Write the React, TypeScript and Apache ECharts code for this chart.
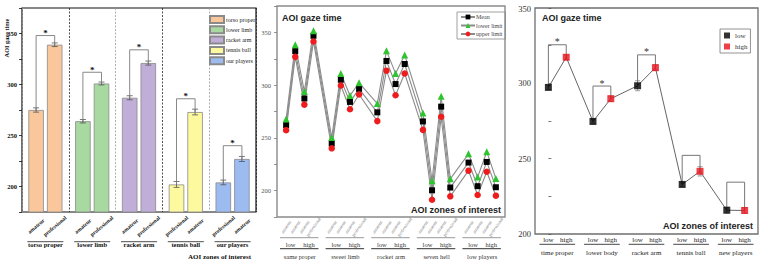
import { useEffect, useRef } from "react";
import * as echarts from "echarts";

// ---- Left panel: gaze time per AOI zone, two groups per zone ----
const zoneNames = ["torso proper", "lower limb", "racket arm", "tennis ball", "our players"];
const firstBarValues = [275, 264, 287, 202, 204];
const secondBarValues = [339, 301, 321, 273, 227];
const firstBarErrors = [2.1, 1.7, 2.0, 2.9, 2.3];
const secondBarErrors = [1.8, 1.4, 2.0, 2.8, 2.5];
const firstBarLabels = ["amateur", "amateur", "amateur", "professional", "professional"];
const secondBarLabels = ["professional", "professional", "professional", "amateur", "amateur"];
const barBracketTops = [348, 312, 334, 286, 240];

// ---- Middle panel: mean gaze time with its lower / upper limits ----
const regionNames = ["same proper", "sweet limb", "rocket arm", "seven hell", "low players"];
const slotNames = ["amateur", "amateur", "amateur", "professional"];
const levelNames = ["low", "high"];
const meanValues = [262.1, 332.2, 287.3, 346.8, 244.6, 305.1, 284.1, 296.5, 274.2, 322.9, 301.0, 320.0, 265.6, 200.3, 279.6, 202.9, 226.6, 204.2, 227.2, 203.2];
const lowerLimitValues = [267.8, 338.2, 294.0, 351.6, 250.3, 311.1, 290.1, 302.2, 282.5, 332.5, 311.1, 328.6, 273.6, 209.3, 289.5, 211.2, 234.9, 212.8, 236.9, 211.5];
const upperLimitValues = [257.3, 326.8, 281.5, 341.4, 240.1, 299.7, 277.1, 291.1, 265.9, 313.7, 290.4, 311.0, 257.6, 191.3, 270.0, 194.6, 218.9, 195.8, 217.9, 195.2];

// ---- Right panel: low vs high per zone ----
const pairZoneNames = ["time proper", "lower body", "racket arm", "tennis ball", "new players"];
const lowValues = [297.3, 274.7, 298.4, 232.9, 215.8];
const highValues = [317.3, 289.8, 310.4, 241.6, 215.6];
const lowErrors = [1.5, 1.5, 3.3, 1.5, 1.9];
const highErrors = [1.5, 1.8, 1.9, 3.1, 1.9];
const pairBracketTops = [325.6, 298.2, 318.9, 252.2, 234.4];
const pairSignificant = [true, true, true, false, false];
const pairAxisMin = 200;
const pairAxisMax = 350;

// ---- styling ----
const zoneColors = ["#f9c79b", "#a7d9a0", "#c0aed8", "#fdf99f", "#9cbbf0"];
const SERIF = '"Liberation Serif", "Times New Roman", serif';
const SANS = '"Liberation Sans", Arial, sans-serif';
const BAR_W = 15.5;
const BAR_GAP = 3.1;
const BAR_OFFSET_PX = (BAR_W + BAR_GAP) / 2;
const BAR_OFFSET_UNITS = 0.2; // same offset on the 0..5 label axis

const near = (a: number, b: number) => Math.abs(a - b) < 1e-6;
const slotPos = (i: number) => Math.floor(i / 4) * 5 + (i % 4) + 1;
const pairPos = (g: number, k: number) => g * 5 + k * 2;

function buildOption(): any {
  const hiddenAxis = {
    axisLine: { show: false },
    axisTick: { show: false },
    splitLine: { show: false },
  };

  // ----- bars (two stacks so each zone keeps its own colour/legend entry)
  const barSeries: any[] = [];
  zoneNames.forEach((name, z) => {
    [firstBarValues, secondBarValues].forEach((vals, k) => {
      barSeries.push({
        type: "bar",
        name,
        xAxisIndex: 0,
        yAxisIndex: 0,
        stack: k === 0 ? "first" : "second",
        barWidth: BAR_W,
        barGap: `${(BAR_GAP / BAR_W) * 100}%`,
        data: zoneNames.map((_, i) => (i === z ? vals[i] : "-")),
        itemStyle: { color: zoneColors[z], borderColor: "#8a8a8a", borderWidth: 0.8 },
        z: 2,
      });
    });
  });

  const errStyle = { stroke: "#555", lineWidth: 0.8 };
  const errorBar = (x: number, yTop: number, yBot: number, cap: number, style: any) => [
    { type: "line", shape: { x1: x, y1: yTop, x2: x, y2: yBot }, style },
    { type: "line", shape: { x1: x - cap, y1: yTop, x2: x + cap, y2: yTop }, style },
    { type: "line", shape: { x1: x - cap, y1: yBot, x2: x + cap, y2: yBot }, style },
  ];

  const leftErrorSeries = {
    type: "custom",
    xAxisIndex: 0,
    yAxisIndex: 0,
    z: 3,
    silent: true,
    data: zoneNames.flatMap((_, z) => [
      [z, firstBarValues[z], firstBarErrors[z], 0],
      [z, secondBarValues[z], secondBarErrors[z], 1],
    ]),
    renderItem: (_p: any, api: any) => {
      const cat = api.value(0);
      const v = api.value(1);
      const e = api.value(2);
      const side = api.value(3) ? 1 : -1;
      const x = api.coord([cat, v])[0] + side * BAR_OFFSET_PX;
      const yT = api.coord([cat, v + e])[1];
      const yB = api.coord([cat, v - e])[1];
      return { type: "group", children: errorBar(x, yT, yB, 3, errStyle) };
    },
  };

  const leftBracketSeries = {
    type: "custom",
    xAxisIndex: 0,
    yAxisIndex: 0,
    z: 3,
    silent: true,
    data: zoneNames.map((_, z) => [z, barBracketTops[z], firstBarValues[z], secondBarValues[z]]),
    renderItem: (_p: any, api: any) => {
      const cat = api.value(0);
      const cx = api.coord([cat, api.value(1)])[0];
      const yT = api.coord([cat, api.value(1)])[1];
      const yA = api.coord([cat, api.value(2)])[1];
      const yB = api.coord([cat, api.value(3)])[1];
      const xL = cx - BAR_OFFSET_PX;
      const xR = cx + BAR_OFFSET_PX;
      return {
        type: "group",
        children: [
          {
            type: "polyline",
            shape: { points: [[xL, yA], [xL, yT], [xR, yT], [xR, yB]] },
            style: { stroke: "#7a7a7a", lineWidth: 0.9, fill: "none" },
          },
          {
            type: "text",
            x: cx,
            y: yT - 2.5,
            style: { text: "*", fontSize: 9, fontWeight: "bold", fontFamily: SERIF, fill: "#111", align: "center", verticalAlign: "middle" },
          },
        ],
      };
    },
  };

  const leftUnderlineSeries = {
    type: "custom",
    xAxisIndex: 0,
    yAxisIndex: 0,
    silent: true,
    data: zoneNames.map((_, g) => [g, 175]),
    renderItem: (_p: any, api: any) => {
      const c = api.coord([api.value(0), 175]);
      const half = api.size([1, 0])[0] * 0.385;
      const y = c[1] + 29.7;
      return { type: "line", shape: { x1: c[0] - half, y1: y, x2: c[0] + half, y2: y }, style: { stroke: "#222", lineWidth: 0.8 } };
    },
  };

  // ----- middle panel lines
  const limitLine = { color: "#8c8c8c", width: 1.1 };
  const middleSeries = [
    {
      type: "line",
      name: "Mean",
      xAxisIndex: 2,
      yAxisIndex: 1,
      data: meanValues.map((v, i) => [slotPos(i), v]),
      symbol: "rect",
      symbolSize: 6,
      itemStyle: { color: "#000" },
      lineStyle: limitLine,
      z: 4,
    },
    {
      type: "line",
      name: "lower limit",
      xAxisIndex: 2,
      yAxisIndex: 1,
      data: lowerLimitValues.map((v, i) => [slotPos(i), v]),
      symbol: "triangle",
      symbolSize: 7,
      itemStyle: { color: "#2fc42f" },
      lineStyle: limitLine,
      z: 4,
    },
    {
      type: "line",
      name: "upper limit",
      xAxisIndex: 2,
      yAxisIndex: 1,
      data: upperLimitValues.map((v, i) => [slotPos(i), v]),
      symbol: "circle",
      symbolSize: 6.5,
      itemStyle: { color: "#ee1c1c" },
      lineStyle: limitLine,
      z: 4,
    },
  ];

  const middleUnderlineSeries = {
    type: "custom",
    xAxisIndex: 2,
    yAxisIndex: 1,
    silent: true,
    data: regionNames.map((_, g) => [g, 175]),
    renderItem: (_p: any, api: any) => {
      const g = api.value(0);
      const a = api.coord([g * 5 + 0.33, 175]);
      const b = api.coord([g * 5 + 4.55, 175]);
      return {
        type: "group",
        children: [
          { type: "line", shape: { x1: a[0], y1: a[1] + 20.7, x2: b[0], y2: a[1] + 20.7 }, style: { stroke: "#999", lineWidth: 1 } },
          { type: "line", shape: { x1: a[0], y1: a[1] + 31.7, x2: b[0], y2: a[1] + 31.7 }, style: { stroke: "#333", lineWidth: 1 } },
        ],
      };
    },
  };

  // ----- right panel
  const rightSeries: any[] = [
    {
      type: "line",
      name: "trend",
      xAxisIndex: 5,
      yAxisIndex: 2,
      data: lowValues.flatMap((lv, g) => [[pairPos(g, 0), lv], [pairPos(g, 1), highValues[g]]]),
      showSymbol: false,
      symbol: "none",
      lineStyle: { color: "#666", width: 1 },
      silent: true,
      z: 2,
    },
    {
      type: "custom",
      xAxisIndex: 5,
      yAxisIndex: 2,
      silent: true,
      z: 3,
      data: lowValues.flatMap((lv, g) => [[pairPos(g, 0), lv, lowErrors[g]], [pairPos(g, 1), highValues[g], highErrors[g]]]),
      renderItem: (_p: any, api: any) => {
        const x = api.value(0);
        const v = api.value(1);
        const e = api.value(2);
        const px = api.coord([x, v])[0];
        const yT = api.coord([x, v + e])[1];
        const yB = api.coord([x, v - e])[1];
        return { type: "group", children: errorBar(px, yT, yB, 2.5, { stroke: "#888", lineWidth: 0.8 }) };
      },
    },
    {
      type: "custom",
      xAxisIndex: 5,
      yAxisIndex: 2,
      silent: true,
      z: 3,
      data: pairZoneNames.map((_, g) => [g, pairBracketTops[g], lowValues[g], highValues[g], pairSignificant[g] ? 1 : 0]),
      renderItem: (_p: any, api: any) => {
        const g = api.value(0);
        const xL = api.coord([pairPos(g, 0), 250])[0];
        const xR = api.coord([pairPos(g, 1), 250])[0];
        const yT = api.coord([0, api.value(1)])[1];
        const yA = api.coord([0, api.value(2)])[1];
        const yB = api.coord([0, api.value(3)])[1];
        const children: any[] = [
          {
            type: "polyline",
            shape: { points: [[xL, yA], [xL, yT], [xR, yT], [xR, yB]] },
            style: { stroke: "#777", lineWidth: 1, fill: "none" },
          },
        ];
        if (api.value(4)) {
          children.push({
            type: "text",
            x: (xL + xR) / 2,
            y: yT - 3,
            style: { text: "*", fontSize: 10, fontFamily: SERIF, fill: "#333", align: "center", verticalAlign: "middle" },
          });
        }
        return { type: "group", children };
      },
    },
    {
      type: "scatter",
      name: "low",
      xAxisIndex: 5,
      yAxisIndex: 2,
      data: lowValues.map((v, g) => [pairPos(g, 0), v]),
      symbol: "rect",
      symbolSize: 7,
      itemStyle: { color: "#000" },
      z: 5,
    },
    {
      type: "scatter",
      name: "high",
      xAxisIndex: 5,
      yAxisIndex: 2,
      data: highValues.map((v, g) => [pairPos(g, 1), v]),
      symbol: "rect",
      symbolSize: 7,
      itemStyle: { color: "#e8101a" },
      z: 5,
    },
    {
      type: "custom",
      xAxisIndex: 5,
      yAxisIndex: 2,
      silent: true,
      data: pairZoneNames.map((_, g) => [g, 200]),
      renderItem: (_p: any, api: any) => {
        const g = api.value(0);
        const a = api.coord([pairPos(g, 0) - 1, 200]);
        const b = api.coord([pairPos(g, 1) + 1, 200]);
        const y = a[1] + 10.3;
        return { type: "line", shape: { x1: a[0], y1: y, x2: b[0], y2: y }, style: { stroke: "#333", lineWidth: 0.9 } };
      },
    },
  ];

  const valueLabelAxis = (gridIndex: number, min: number, max: number, interval: number, formatter: (v: number) => string, label: any) => ({
    type: "value",
    gridIndex,
    min,
    max,
    interval,
    position: "bottom",
    ...hiddenAxis,
    axisLabel: { show: true, hideOverlap: false, showMinLabel: true, showMaxLabel: true, formatter, ...label },
  });

  const yLabel = (v: number) => (near(v % 50, 0) ? String(Math.round(v)) : "");

  return {
    animation: false,
    backgroundColor: "#ffffff",
    grid: [
      { left: 22, top: 8, width: 234, height: 204, show: true, borderColor: "#111", borderWidth: 1.2, backgroundColor: "transparent", outerBoundsMode: "none" },
      { left: 277, top: 6, width: 228, height: 211, show: true, borderColor: "#8a8a8a", borderWidth: 1.4, backgroundColor: "transparent", outerBoundsMode: "none" },
      { left: 535, top: 8, width: 223, height: 226, show: true, borderColor: "#6f6f6f", borderWidth: 1.3, backgroundColor: "transparent", outerBoundsMode: "none" },
    ],
    xAxis: [
      // 0: left bars, group names underneath
      {
        type: "category",
        gridIndex: 0,
        data: zoneNames,
        boundaryGap: true,
        axisLine: { show: false },
        axisTick: { show: false },
        axisLabel: { margin: 32, fontSize: 6.5, fontWeight: "bold", fontFamily: SERIF, color: "#111", verticalAlign: "middle", interval: 0 },
        splitLine: { show: true, lineStyle: { color: ["#9a9a9a", "#222"], width: 0.8, type: [2, 1.5] } },
      },
      // 1: left, rotated group labels under each bar
      valueLabelAxis(
        0,
        0,
        5,
        0.1,
        (v: number) => {
          for (let z = 0; z < zoneNames.length; z++) {
            if (near(v, z + 0.5 - BAR_OFFSET_UNITS)) return firstBarLabels[z];
            if (near(v, z + 0.5 + BAR_OFFSET_UNITS)) return secondBarLabels[z];
          }
          return "";
        },
        { rotate: 40, align: "center", verticalAlign: "middle", margin: 14, fontSize: 5.5, fontWeight: "bold", fontFamily: SERIF, color: "#222" }
      ),
      // 2: middle, small rotated slot labels
      valueLabelAxis(
        1,
        0,
        25,
        0.5,
        (v: number) => {
          if (!Number.isInteger(v)) return "";
          const r = (((v - 1) % 5) + 5) % 5;
          return r < 4 ? slotNames[r] : "";
        },
        { rotate: 55, align: "center", verticalAlign: "middle", margin: 10, fontSize: 4.5, fontFamily: SERIF, color: "#777" }
      ),
      // 3: middle, low / high
      valueLabelAxis(
        1,
        0,
        25,
        0.5,
        (v: number) => {
          const g = Math.floor(v / 5);
          const r = v - g * 5;
          if (g < 0 || g > 4) return "";
          if (near(r, 1.5)) return levelNames[0];
          if (near(r, 3.5)) return levelNames[1];
          return "";
        },
        { verticalAlign: "middle", margin: 27, fontSize: 6.5, fontFamily: SERIF, color: "#333" }
      ),
      // 4: middle, region names
      valueLabelAxis(
        1,
        0,
        25,
        0.5,
        (v: number) => {
          const g = Math.floor(v / 5);
          const r = v - g * 5;
          return g >= 0 && g < 5 && near(r, 2.5) ? regionNames[g] : "";
        },
        { verticalAlign: "middle", margin: 39.5, fontSize: 6.5, fontFamily: SERIF, color: "#333" }
      ),
      // 5: right, low / high
      valueLabelAxis(
        2,
        -1.5,
        23.5,
        0.5,
        (v: number) => {
          const g = Math.floor(v / 5);
          const r = v - g * 5;
          if (g < 0 || g > 4) return "";
          if (near(r, 0)) return levelNames[0];
          if (near(r, 2)) return levelNames[1];
          return "";
        },
        { verticalAlign: "middle", margin: 6, fontSize: 7, fontFamily: SERIF, color: "#222" }
      ),
      // 6: right, zone names
      valueLabelAxis(
        2,
        -1.5,
        23.5,
        0.5,
        (v: number) => {
          const g = Math.floor(v / 5);
          const r = v - g * 5;
          return g >= 0 && g < 5 && near(r, 1) ? pairZoneNames[g] : "";
        },
        { verticalAlign: "middle", margin: 18.7, fontSize: 7, fontFamily: SERIF, color: "#222" }
      ),
    ],
    yAxis: [
      {
        type: "value",
        gridIndex: 0,
        min: 175,
        max: 375,
        interval: 25,
        axisLine: { show: false },
        axisTick: { show: true, inside: false, length: 3, lineStyle: { color: "#111", width: 0.8 } },
        splitLine: { show: false },
        axisLabel: { formatter: yLabel, showMaxLabel: true, showMinLabel: true, fontSize: 6.5, fontWeight: "bold", fontFamily: SERIF, color: "#111", margin: 5 },
      },
      {
        type: "value",
        gridIndex: 1,
        min: 175,
        max: 375,
        interval: 25,
        axisLine: { show: false },
        axisTick: { show: true, inside: false, length: 3, lineStyle: { color: "#777", width: 0.8 } },
        splitLine: { show: false },
        axisLabel: { formatter: yLabel, showMaxLabel: true, showMinLabel: true, fontSize: 6.5, fontFamily: SERIF, color: "#555", margin: 6 },
      },
      {
        type: "value",
        gridIndex: 2,
        min: pairAxisMin,
        max: pairAxisMax,
        interval: 25,
        axisLine: { show: false },
        axisTick: { show: true, inside: true, length: 3, lineStyle: { color: "#555", width: 0.8 } },
        splitLine: { show: false },
        axisLabel: {
          formatter: (v: number) => (near(v % 50, 0) && v < pairAxisMax ? String(Math.round(v)) : ""),
          showMinLabel: true,
          fontSize: 8.5,
          fontFamily: SERIF,
          color: "#333",
          margin: 4,
        },
      },
    ],
    legend: [
      {
        data: zoneNames,
        left: 209,
        top: 15,
        orient: "vertical",
        icon: "rect",
        itemWidth: 14,
        itemHeight: 7,
        itemGap: 1.3,
        padding: 0,
        selectedMode: false,
        textStyle: { fontSize: 6, fontFamily: SERIF, color: "#222", padding: [0, 0, 0, -3] },
      },
      {
        data: ["Mean", "lower limit", "upper limit"],
        left: 457,
        top: 12,
        orient: "vertical",
        itemWidth: 14,
        itemHeight: 6,
        itemGap: 2.5,
        padding: [2, 3, 2, 3],
        borderColor: "#888",
        borderWidth: 0.8,
        selectedMode: false,
        textStyle: { fontSize: 6, fontFamily: SERIF, color: "#444", padding: [0, 0, 0, -4] },
      },
      {
        data: ["low", "high"],
        left: 720,
        top: 29,
        orient: "vertical",
        icon: "rect",
        itemWidth: 6,
        itemHeight: 6,
        itemGap: 4,
        padding: [3, 3, 3, 4],
        borderColor: "#777",
        borderWidth: 0.8,
        selectedMode: false,
        textStyle: { fontSize: 7, fontFamily: SERIF, color: "#333" },
      },
    ],
    graphic: [
      {
        type: "text",
        x: 6,
        y: 38,
        rotation: Math.PI / 2,
        style: { text: "AOI gaze time", fontSize: 6.3, fontWeight: "bold", fontFamily: SERIF, fill: "#111", align: "center", verticalAlign: "middle" },
      },
      {
        type: "text",
        x: 251,
        y: 257,
        style: { text: "AOI zones of interest", fontSize: 7, fontWeight: "bold", fontFamily: SERIF, fill: "#111", align: "right", verticalAlign: "middle" },
      },
      {
        type: "text",
        x: 282,
        y: 17.5,
        style: { text: "AOI gaze time", fontSize: 9, fontWeight: "bold", fontFamily: SANS, fill: "#222", align: "left", verticalAlign: "middle" },
      },
      {
        type: "text",
        x: 501,
        y: 209.5,
        style: { text: "AOI zones of interest", fontSize: 9, fontWeight: "bold", fontFamily: SANS, fill: "#222", align: "right", verticalAlign: "middle" },
      },
      {
        type: "text",
        x: 542,
        y: 17.5,
        style: { text: "AOI gaze time", fontSize: 9, fontWeight: "bold", fontFamily: SANS, fill: "#222", align: "left", verticalAlign: "middle" },
      },
      {
        type: "text",
        x: 753,
        y: 225.5,
        style: { text: "AOI zones of interest", fontSize: 9, fontWeight: "bold", fontFamily: SANS, fill: "#222", align: "right", verticalAlign: "middle" },
      },
      // top value of the right axis
      {
        type: "text",
        x: 531,
        y: 9,
        z: 100,
        style: { text: String(pairAxisMax), fontSize: 8.5, fontFamily: SERIF, fill: "#333", align: "right", verticalAlign: "middle" },
      },
    ],
    series: [
      ...barSeries,
      leftErrorSeries,
      leftBracketSeries,
      leftUnderlineSeries,
      ...middleSeries,
      middleUnderlineSeries,
      ...rightSeries,
    ],
  };
}

export default function App() {
  const ref = useRef<HTMLDivElement>(null);
  useEffect(() => {
    if (!ref.current) return;
    const chart = echarts.init(ref.current, undefined, { renderer: "svg" });
    chart.setOption(buildOption());
    return () => chart.dispose();
  }, []);
  return (
    <div
      ref={ref}
      style={{ position: "fixed", left: 0, top: 0, width: 767, height: 263, background: "#fff" }}
    />
  );
}
